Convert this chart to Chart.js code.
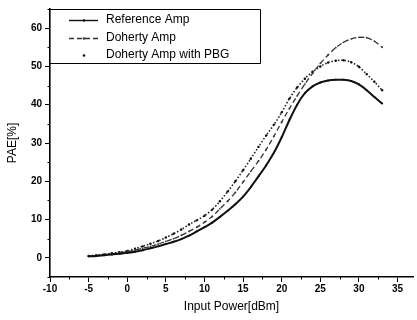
<!DOCTYPE html>
<html><head><meta charset="utf-8">
<script src="https://cdn.jsdelivr.net/npm/chart.js@4/dist/chart.umd.min.js"></script>
<style>html,body{margin:0;padding:0;background:#fff}#wrap{width:417px;height:320px;position:relative}</style>
</head><body><div id="wrap"><canvas id="c" width="417" height="320"></canvas></div>
<script>
const inputPower = [-5,-4,-3,-2,-1,0,1,2,3,4,5,6,7,8,9,10,11,12,13,14,15,16,17,18,19,20,21,22,23,24,25,26,27,28,29,30,31,32,33];
const refAmp = [0.4,0.5,0.7,0.9,1.1,1.3,1.6,2.0,2.5,3.0,3.6,4.2,4.9,5.8,6.9,8.0,9.2,10.7,12.3,14.0,16.0,18.5,21.3,24.2,27.5,31.5,36.0,40.0,43.0,44.8,45.8,46.3,46.5,46.5,46.2,45.3,43.8,42.0,40.3];
const dohertyAmp = [0.4,0.6,0.8,1.0,1.3,1.6,2.0,2.5,3.0,3.6,4.3,5.0,5.9,6.9,8.0,9.3,10.8,12.8,14.8,17.1,19.8,22.6,25.3,28.3,31.8,35.5,39.0,42.3,45.4,48.2,50.8,53.0,54.9,56.3,57.2,57.6,57.5,56.6,55.0];
const dohertyPBG = [0.5,0.7,0.9,1.2,1.5,1.8,2.4,3.0,3.7,4.4,5.3,6.3,7.4,8.7,9.8,11.0,12.6,14.8,17.3,20.0,22.9,25.9,29.0,32.0,34.8,38.0,41.6,44.5,46.8,48.6,50.0,51.0,51.5,51.6,51.1,49.9,48.0,46.0,43.8];
const seriesLabels = ["Reference Amp","Doherty Amp","Doherty Amp with PBG"];
const xTicks = [-10,-5,0,5,10,15,20,25,30,35];
const yTicks = [0,10,20,30,40,50,60];

const pts = (ys) => inputPower.map((x,i)=>({x:x,y:ys[i]}));
const FONT = "'Liberation Sans', Arial, sans-serif";

const minorTicks = {
  id:'minorTicks',
  afterDraw(chart){
    const ctx = chart.ctx, xs = chart.scales.x, ys = chart.scales.y, a = chart.chartArea;
    ctx.save(); ctx.strokeStyle='#000'; ctx.lineWidth=1;
    for(let v=-7.5; v<=37; v+=5){ const p=Math.round(xs.getPixelForValue(v))+0.5; ctx.beginPath(); ctx.moveTo(p,a.bottom); ctx.lineTo(p,a.bottom+2.5); ctx.stroke(); }
    for(let v=-5; v<=65; v+=10){ const p=Math.round(ys.getPixelForValue(v))+0.5; ctx.beginPath(); ctx.moveTo(a.left,p); ctx.lineTo(a.left-2.5,p); ctx.stroke(); }
    ctx.restore();
  }
};
const boxLegend = {
  id:'boxLegend',
  afterDraw(chart){
    const ctx = chart.ctx, a = chart.chartArea;
    const L=a.left, T=a.top, R=260, B=63;
    ctx.save();
    ctx.fillStyle='#fff'; ctx.fillRect(L+1,T+1,R-L-1,B-T-1);
    ctx.strokeStyle='#000'; ctx.lineWidth=1;
    ctx.beginPath(); ctx.moveTo(L,T+0.5); ctx.lineTo(R+0.5,T+0.5); ctx.lineTo(R+0.5,B+0.5); ctx.lineTo(L,B+0.5); ctx.stroke();
    ctx.font = "12px "+FONT; ctx.fillStyle='#000'; ctx.textBaseline='middle';
    const rows=[20,38,55];
    chart.data.datasets.forEach((ds,i)=>{
      const y=rows[i];
      ctx.fillText(ds.label,106,y);
      ctx.strokeStyle=ds.borderColor; ctx.lineWidth=Math.min(ds.borderWidth,1.4);
      ctx.setLineDash(ds.borderDash||[]);
      if(i<2){ ctx.beginPath(); ctx.moveTo(69,y+0.5); ctx.lineTo(98,y+0.5); ctx.stroke(); }
      ctx.setLineDash([]);
      ctx.fillStyle=ds.pointBackgroundColor; ctx.beginPath(); ctx.arc(84,y+0.5,1.3,0,Math.PI*2); ctx.fill();
      ctx.fillStyle='#000';
    });
    ctx.restore();
  }
};

new Chart(document.getElementById('c'),{
  type:'line',
  data:{datasets:[
    {label:seriesLabels[0],data:pts(refAmp),borderColor:'#111',backgroundColor:'#111',pointBackgroundColor:'#111',borderWidth:2,pointRadius:1,pointBorderWidth:0,tension:0.3},
    {label:seriesLabels[1],data:pts(dohertyAmp),borderColor:'#333',backgroundColor:'#333',pointBackgroundColor:'#333',borderWidth:1.3,borderDash:[5,3],pointRadius:0.9,pointBorderWidth:0,tension:0.3},
    {label:seriesLabels[2],data:pts(dohertyPBG),borderColor:'#222',backgroundColor:'#222',pointBackgroundColor:'#111',borderWidth:1.6,borderDash:[1.5,1.8],pointRadius:1.2,pointBorderWidth:0,tension:0.3}
  ]},
  options:{
    responsive:false,animation:false,
    layout:{padding:{top:8,right:1,left:0,bottom:0}},
    plugins:{legend:{display:false},tooltip:{enabled:false}},
    scales:{
      x:{type:'linear',min:-10,max:37,
        afterBuildTicks(s){ s.ticks = xTicks.map(v=>({value:v})); },
        afterFit(s){ s.height = 43; },
        grid:{display:true,drawOnChartArea:false,drawTicks:true,tickLength:5,color:'#000',tickColor:'#000'},
        border:{display:true,color:'#000',width:1.6},
        ticks:{color:'#000',font:{family:FONT,size:10,weight:'bold'},padding:1,maxRotation:0},
        title:{display:true,text:'Input Power[dBm]',color:'#000',font:{family:FONT,size:12},padding:{top:0,bottom:6}}
      },
      y:{type:'linear',min:-5,max:65,
        afterBuildTicks(s){ s.ticks = yTicks.map(v=>({value:v})); },
        afterFit(s){ s.width = 50; },
        grid:{display:true,drawOnChartArea:false,drawTicks:true,tickLength:5,color:'#000',tickColor:'#000'},
        border:{display:true,color:'#000',width:1.6},
        ticks:{color:'#000',font:{family:FONT,size:10,weight:'bold'},padding:3},
        title:{display:true,text:'PAE[%]',color:'#000',font:{family:FONT,size:12},padding:{top:5,bottom:0}}
      }
    }
  },
  plugins:[minorTicks,boxLegend]
});
</script></body></html>
